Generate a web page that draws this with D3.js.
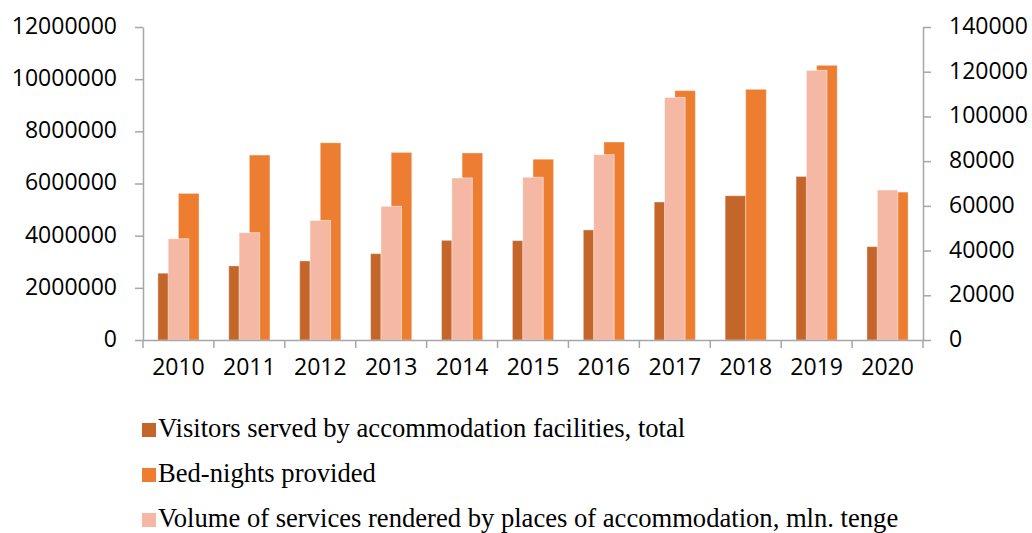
<!DOCTYPE html>
<html>
<head>
<meta charset="utf-8">
<script src="https://cdn.jsdelivr.net/npm/d3@7"></script>
<style>
  html, body { margin: 0; padding: 0; background: #fff; }
  svg { display: block; }
  .tick text { font-family: "Open Sans", sans-serif; font-size: 23px; fill: #000; }
  .legend text { font-family: "Liberation Serif", "Times New Roman", serif; font-size: 26.6px; fill: #000; }
</style>
</head>
<body>
<svg id="chart" width="1032" height="533"></svg>
<script>
// Accommodation statistics by year
const years = ["2010","2011","2012","2013","2014","2015","2016","2017","2018","2019","2020"];
const visitors = [2560000, 2840000, 3030000, 3310000, 3820000, 3810000, 4220000, 5290000, 5530000, 6270000, 3580000];
const bedNights = [5620000, 7090000, 7560000, 7190000, 7170000, 6930000, 7590000, 9560000, 9610000, 10530000, 5670000];
const volume = [45300, 48000, 53500, 59800, 72500, 72800, 82900, 108500, null, 120600, 67100];

const leftTicks = [0, 2000000, 4000000, 6000000, 8000000, 10000000, 12000000];
const rightTicks = [0, 20000, 40000, 60000, 80000, 100000, 120000, 140000];

const seriesNames = [
  "Visitors served by accommodation facilities, total",
  "Bed-nights provided",
  "Volume of services rendered by places of accommodation, mln. tenge"
];
const colors = ["#C4662A", "#ED7D31", "#F4B8A4"];

const svg = d3.select("#chart");
const plot = { left: 143, right: 923, top: 27, bottom: 340 };
const axisColor = "#a6a6a6";

const x = d3.scaleBand().domain(years).range([plot.left, plot.right]).padding(0);
const yL = d3.scaleLinear().domain([0, 12000000]).range([plot.bottom, plot.top]);
const yR = d3.scaleLinear().domain([0, 140000]).range([plot.bottom, plot.top]);

const barW = x.bandwidth() * 0.29;
const cx = d => x(d) + x.bandwidth() / 2;

// Primary-axis bars: visitors and bed-nights side by side
const g = svg.append("g");
g.selectAll("rect.vis").data(years).join("rect")
  .attr("x", d => cx(d) - barW)
  .attr("width", barW)
  .attr("y", (d, i) => yL(visitors[i]))
  .attr("height", (d, i) => yL(0) - yL(visitors[i]))
  .attr("fill", colors[0])
  .attr("stroke", "rgba(255,255,255,0.35)").attr("stroke-width", 1);

g.selectAll("rect.bed").data(years).join("rect")
  .attr("x", d => cx(d))
  .attr("width", barW)
  .attr("y", (d, i) => yL(bedNights[i]))
  .attr("height", (d, i) => yL(0) - yL(bedNights[i]))
  .attr("fill", colors[1])
  .attr("stroke", "rgba(255,255,255,0.35)").attr("stroke-width", 1);

// Secondary-axis bars: volume of services, centred over each year
const volData = years.map((y, i) => ({ year: y, v: volume[i] })).filter(d => d.v != null);
g.selectAll("rect.volb").data(volData).join("rect")
  .attr("x", d => cx(d.year) - barW / 2)
  .attr("width", barW)
  .attr("y", d => yR(d.v))
  .attr("height", d => yR(0) - yR(d.v))
  .attr("fill", colors[2])
  .attr("stroke", "rgba(255,255,255,0.5)").attr("stroke-width", 1);

// Axes
function styleAxis(sel) {
  sel.select(".domain").attr("stroke", axisColor).attr("stroke-width", 1.5);
  sel.selectAll(".tick line").attr("stroke", axisColor).attr("stroke-width", 1.5);
}

const leftAxis = svg.append("g")
  .attr("transform", `translate(${plot.left},0)`)
  .call(d3.axisLeft(yL).tickValues(leftTicks).tickFormat(d3.format("d")).tickSize(8).tickSizeOuter(0).tickPadding(18));
styleAxis(leftAxis);
leftAxis.selectAll(".tick text").attr("dy", "0.28em");

const rightAxis = svg.append("g")
  .attr("transform", `translate(${plot.right},0)`)
  .call(d3.axisRight(yR).tickValues(rightTicks).tickFormat(d3.format("d")).tickSize(8).tickSizeOuter(0).tickPadding(18));
styleAxis(rightAxis);
rightAxis.selectAll(".tick text").attr("dy", "0.28em");

const bottomAxis = svg.append("g")
  .attr("transform", `translate(0,${plot.bottom})`)
  .call(d3.axisBottom(x).tickSize(0).tickSizeOuter(0).tickPadding(28));
styleAxis(bottomAxis);
bottomAxis.selectAll(".tick text").attr("dy", "0.3em");
// Boundary ticks between categories
bottomAxis.selectAll("line.sep").data(d3.range(years.length + 1)).join("line")
  .attr("class", "sep")
  .attr("x1", i => plot.left + i * x.step()).attr("x2", i => plot.left + i * x.step())
  .attr("y1", 0).attr("y2", 8)
  .attr("stroke", axisColor).attr("stroke-width", 1.5);

// Legend
const legend = svg.append("g").attr("class", "legend");
const rowY = [437, 482, 527];
seriesNames.forEach((name, i) => {
  legend.append("rect")
    .attr("x", 142).attr("y", rowY[i] - 14)
    .attr("width", 14).attr("height", 14)
    .attr("fill", colors[i]);
  legend.append("text")
    .attr("x", 158).attr("y", rowY[i])
    .text(name);
});
</script>
</body>
</html>
